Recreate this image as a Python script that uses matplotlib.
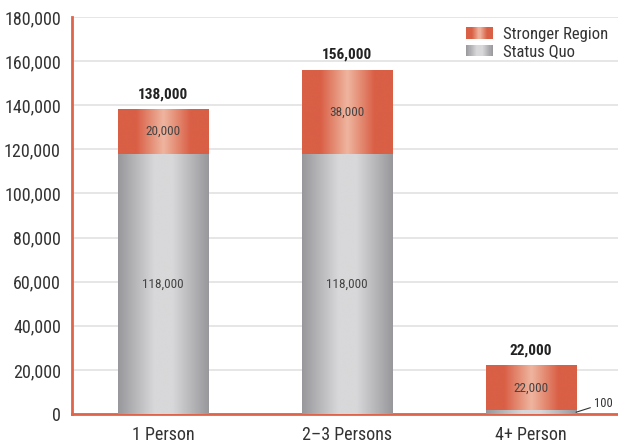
import matplotlib
matplotlib.use("Agg")
import matplotlib.pyplot as plt
import numpy as np
from matplotlib.colors import LinearSegmentedColormap
from matplotlib.patches import Rectangle
from matplotlib.legend_handler import HandlerBase

categories = ["1 Person", "2\u20133 Persons", "4+ Person"]
status_quo = [118000, 118000, 1600]
stronger = [20000, 38000, 20400]
status_quo_labels = ["118,000", "118,000", "100"]
stronger_labels = ["20,000", "38,000", "22,000"]
total_labels = ["138,000", "156,000", "22,000"]
yticks = [0, 20000, 40000, 60000, 80000, 100000, 120000, 140000, 160000, 180000]

plt.rcParams['font.family'] = ['Roboto Condensed', 'DejaVu Sans']

ORANGE_EDGE = "#d95f45"
ORANGE_MID = "#efb5a0"
GRAY_EDGE = "#98989c"
GRAY_MID = "#d8d8da"
RED = "#e0644a"

orange_cmap = LinearSegmentedColormap.from_list("o", [(0, ORANGE_EDGE), (0.2, ORANGE_EDGE), (0.5, ORANGE_MID), (0.8, ORANGE_EDGE), (1, ORANGE_EDGE)])
gray_cmap = LinearSegmentedColormap.from_list("g", [(0, GRAY_EDGE), (0.4, GRAY_MID), (0.6, GRAY_MID), (1, GRAY_EDGE)])

fig = plt.figure(figsize=(6.18, 4.45), dpi=100)
ax = fig.add_axes([72/618, 1-414/445, 1-72/618, (414-17)/445])

grad = np.linspace(0, 1, 256).reshape(1, -1)
width = 0.49
x = np.arange(len(categories))

def gbar(xc, y0, h, cmap):
    ax.imshow(grad, cmap=cmap, extent=(xc-width/2, xc+width/2, y0, y0+h),
              aspect='auto', interpolation='bilinear', zorder=3)

for i in range(len(categories)):
    gbar(x[i], 0, status_quo[i], gray_cmap)
    gbar(x[i], status_quo[i], stronger[i], orange_cmap)
    top = status_quo[i] + stronger[i]
    ax.text(x[i], top + 7000, total_labels[i], ha='center', va='center',
            fontsize=11, fontweight='bold', color="#222222")
    ax.text(x[i], status_quo[i] + stronger[i]/2, stronger_labels[i], ha='center', va='center',
            fontsize=9.5, color="#444444", zorder=4)
    if status_quo[i] > 20000:
        ax.text(x[i], status_quo[i]/2, status_quo_labels[i], ha='center', va='center',
                fontsize=9.5, color="#444444", zorder=4)
    else:
        ax.annotate(status_quo_labels[i], xy=(x[i]+width/2, status_quo[i]/2),
                    xytext=(x[i]+width/2+0.1, 4800), fontsize=9, color="#333333",
                    ha='left', va='center',
                    arrowprops=dict(arrowstyle='-', color="#333333", lw=0.8,
                                    shrinkA=1, shrinkB=0))

ax.set_xlim(-0.495, 2.473)
ax.set_ylim(0, 180000)
ax.set_yticks(yticks)
ax.set_yticklabels([f"{v:,}" for v in yticks])
ax.set_xticks(x)
ax.set_xticklabels(categories)
ax.tick_params(axis='both', length=0, labelsize=13, colors="#333333")
ax.tick_params(axis='y', pad=8)
ax.tick_params(axis='x', pad=9)
ax.yaxis.grid(True, color="#e2e2e2", lw=1.2, zorder=0)
ax.set_axisbelow(True)
for s in ['top', 'right']:
    ax.spines[s].set_visible(False)
ax.spines['left'].set_color(RED)
ax.spines['left'].set_linewidth(2)
ax.spines['bottom'].set_color(RED)
ax.spines['bottom'].set_linewidth(2)
ax.spines['bottom'].set_zorder(2)

class GradHandler(HandlerBase):
    def __init__(self, cmap):
        super().__init__()
        self.cmap = cmap
    def create_artists(self, legend, orig_handle, xdescent, ydescent, width, height, fontsize, trans):
        n = 24
        arts = []
        for k in range(n):
            r = Rectangle((-xdescent + width*k/n, -ydescent), width/n + 0.3, height,
                          facecolor=self.cmap((k+0.5)/n), edgecolor='none', transform=trans)
            arts.append(r)
        return arts

h1 = Rectangle((0, 0), 1, 1)
h2 = Rectangle((0, 0), 1, 1)
leg = ax.legend([h1, h2], ["Stronger Region", "Status Quo"],
                handler_map={h1: GradHandler(orange_cmap), h2: GradHandler(gray_cmap)},
                loc='upper right', bbox_to_anchor=(1.0, 1.0), frameon=False,
                fontsize=12, handlelength=1.6, handleheight=0.7, handletextpad=0.6,
                labelspacing=0.15, borderaxespad=0.2)
for t in leg.get_texts():
    t.set_color("#333333")

fig.savefig("out.png", dpi=100)
